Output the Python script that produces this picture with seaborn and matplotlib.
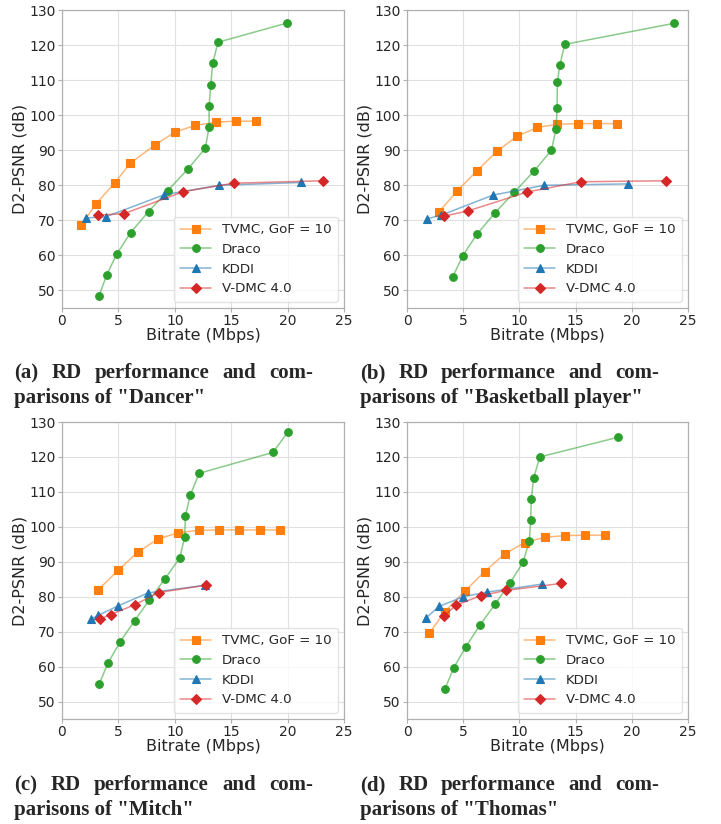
import matplotlib
matplotlib.use("Agg")
import matplotlib.pyplot as plt
import seaborn as sns
import pandas as pd
from matplotlib.colors import to_rgba

series_names = ["TVMC, GoF = 10", "Draco", "KDDI", "V-DMC 4.0"]

# (a) Dancer
a_tvmc_x = [1.71, 2.98, 4.66, 6.05, 8.23, 10.03, 11.83, 13.63, 15.43, 17.23]
a_tvmc_y = [68.6, 74.6, 80.6, 86.3, 91.5, 95.2, 97.1, 98.0, 98.3, 98.3]
a_draco_x = [3.27, 3.95, 4.84, 6.08, 7.67, 9.38, 11.15, 12.71, 13.04, 13.04, 13.19, 13.36, 13.83, 19.97]
a_draco_y = [48.3, 54.3, 60.3, 66.5, 72.5, 78.5, 84.6, 90.6, 96.6, 102.7, 108.7, 114.8, 120.8, 126.3]
a_kddi_x = [2.15, 3.86, 9.06, 13.92, 21.15]
a_kddi_y = [70.7, 71.0, 77.3, 80.0, 80.8]
a_vdmc_x = [3.22, 5.49, 10.77, 15.22, 23.16]
a_vdmc_y = [71.5, 71.9, 78.2, 80.6, 81.3]

# (b) Basketball player
b_tvmc_x = [2.82, 4.44, 6.24, 8.00, 9.79, 11.59, 13.38, 15.18, 16.94, 18.71]
b_tvmc_y = [72.3, 78.3, 84.2, 89.7, 94.0, 96.5, 97.4, 97.6, 97.6, 97.6]
b_draco_x = [4.06, 4.94, 6.21, 7.79, 9.53, 11.29, 12.85, 13.26, 13.35, 13.38, 13.59, 14.03, 23.76]
b_draco_y = [53.8, 59.8, 66.0, 72.0, 78.0, 84.0, 90.0, 96.0, 102.1, 109.4, 114.2, 120.2, 126.2]
b_kddi_x = [1.74, 3.06, 7.65, 12.18, 19.65]
b_kddi_y = [70.4, 71.5, 77.2, 80.0, 80.4]
b_vdmc_x = [3.29, 5.44, 10.71, 15.44, 23.06]
b_vdmc_y = [71.2, 72.7, 78.1, 81.0, 81.3]

# (c) Mitch
c_tvmc_x = [3.16, 4.99, 6.73, 8.50, 10.30, 12.12, 13.92, 15.72, 17.52, 19.29]
c_tvmc_y = [81.8, 87.6, 92.8, 96.5, 98.3, 99.0, 99.1, 99.1, 99.1, 99.1]
c_draco_x = [3.30, 4.07, 5.16, 6.43, 7.73, 9.12, 10.44, 10.88, 10.94, 11.39, 12.15, 18.70, 20.00]
c_draco_y = [55.0, 61.0, 67.1, 73.1, 79.0, 85.1, 91.1, 97.2, 103.2, 109.2, 115.3, 121.3, 127.0]
c_kddi_x = [2.57, 3.22, 4.99, 7.64, 12.71]
c_kddi_y = [73.6, 74.7, 77.4, 81.1, 83.3]
c_vdmc_x = [3.39, 4.31, 6.46, 8.58, 12.80]
c_vdmc_y = [73.6, 74.9, 77.7, 81.2, 83.3]

# (d) Thomas
d_tvmc_x = [2.00, 3.35, 5.12, 6.91, 8.71, 10.47, 12.26, 14.06, 15.82, 17.62]
d_tvmc_y = [69.6, 75.7, 81.5, 87.2, 92.3, 95.5, 97.0, 97.5, 97.6, 97.6]
d_draco_x = [3.38, 4.15, 5.24, 6.47, 7.82, 9.18, 10.32, 10.88, 11.00, 11.06, 11.26, 11.82, 18.74]
d_draco_y = [53.6, 59.6, 65.7, 71.8, 77.8, 84.0, 89.8, 95.9, 101.9, 107.9, 113.9, 120.0, 125.6]
d_kddi_x = [1.71, 2.85, 5.00, 7.09, 11.97]
d_kddi_y = [74.0, 77.2, 80.0, 81.3, 83.6]
d_vdmc_x = [3.29, 4.35, 6.59, 8.82, 13.71]
d_vdmc_y = [74.4, 77.6, 80.3, 81.8, 83.8]

caption_line1 = ["(a) RD performance and com-", "(b) RD performance and com-",
                 "(c) RD performance and com-", "(d) RD performance and com-"]
caption_line2 = ['parisons of "Dancer"', 'parisons of "Basketball player"',
                 'parisons of "Mitch"', 'parisons of "Thomas"']

panel_data = [
    [(a_tvmc_x, a_tvmc_y), (a_draco_x, a_draco_y), (a_kddi_x, a_kddi_y), (a_vdmc_x, a_vdmc_y)],
    [(b_tvmc_x, b_tvmc_y), (b_draco_x, b_draco_y), (b_kddi_x, b_kddi_y), (b_vdmc_x, b_vdmc_y)],
    [(c_tvmc_x, c_tvmc_y), (c_draco_x, c_draco_y), (c_kddi_x, c_kddi_y), (c_vdmc_x, c_vdmc_y)],
    [(d_tvmc_x, d_tvmc_y), (d_draco_x, d_draco_y), (d_kddi_x, d_kddi_y), (d_vdmc_x, d_vdmc_y)],
]

x_ticks = [0, 5, 10, 15, 20, 25]
y_ticks = [50, 60, 70, 80, 90, 100, 110, 120, 130]

colors = ["#ff7f0e", "#2ca02c", "#1f77b4", "#d62728"]
markers = ["s", "o", "^", "D"]
msizes = [5.5, 5.5, 5.5, 5.0]

sns.set_theme(style="whitegrid")
plt.rcParams["font.family"] = ["DejaVu Sans"]
plt.rcParams["axes.edgecolor"] = "#b0b0b0"
plt.rcParams["grid.color"] = "#e0e0e0"

W, H = 721, 824
fig = plt.figure(figsize=(W / 100, H / 100), dpi=100)
renderer = fig.canvas.get_renderer()

# axes boxes in pixels: left, top, right, bottom
boxes = [(62, 10, 344, 308), (407, 10, 688, 308), (62, 422, 344, 719), (407, 422, 688, 719)]
# caption: x start, baseline line 1, baseline line 2
caption_pos = [(14, 378, 403), (360, 378, 403), (14, 790, 815), (360, 790, 815)]
caption_width = 299
cap_font = dict(fontsize=15, fontweight="bold", family=["Liberation Serif", "DejaVu Serif"])


def justified(text, x0, yb, width):
    words = text.split(" ")
    objs = [fig.text(0, 1 - yb / H, w, va="baseline", ha="left", **cap_font) for w in words]
    widths = [o.get_window_extent(renderer).width for o in objs]
    gap = (width - sum(widths)) / (len(words) - 1)
    x = x0
    for o, w in zip(objs, widths):
        o.set_x(x / W)
        x += w + gap


for data, l1, l2, (l, t, r, b), (cx, yb1, yb2) in zip(panel_data, caption_line1, caption_line2,
                                                     boxes, caption_pos):
    ax = fig.add_axes([l / W, 1 - b / H, (r - l) / W, (b - t) / H])
    for (xs, ys), name, col, mk, ms in zip(data, series_names, colors, markers, msizes):
        df = pd.DataFrame({"x": xs, "y": ys})
        sns.lineplot(data=df, x="x", y="y", ax=ax, sort=False, estimator=None,
                     label=name, color=col, marker=mk, markersize=ms, linewidth=1.1)
        ln = ax.lines[-1]
        ln.set_color(to_rgba(col, 0.55))
        ln.set_markerfacecolor(col)
        ln.set_markeredgecolor(col)
        ln.set_markeredgewidth(0.8)
    ax.set_xlim(0, 25)
    ax.set_ylim(45, 130)
    ax.set_xticks(x_ticks)
    ax.set_yticks(y_ticks)
    ax.tick_params(axis="both", labelsize=10, length=3, width=0.8, color="#b0b0b0",
                   pad=1.5, left=True, bottom=True)
    ax.set_xlabel("Bitrate (Mbps)", fontsize=11.5, labelpad=-0.5)
    ax.set_ylabel("D2-PSNR (dB)", fontsize=11.5, labelpad=1)
    for s in ax.spines.values():
        s.set_color("#b0b0b0")
        s.set_linewidth(0.9)
    ax.grid(True, color="#e0e0e0", linewidth=0.8)
    leg = ax.legend(loc="lower right", fontsize=9.6, frameon=True, framealpha=0.8,
                    borderaxespad=0.45, handlelength=2.3, labelspacing=0.5,
                    borderpad=0.5)
    leg.get_frame().set_edgecolor("#dddddd")
    justified(l1, cx, yb1, caption_width)
    fig.text(cx / W, 1 - yb2 / H, l2, va="baseline", ha="left", **cap_font)

fig.savefig("out.png", dpi=100)
